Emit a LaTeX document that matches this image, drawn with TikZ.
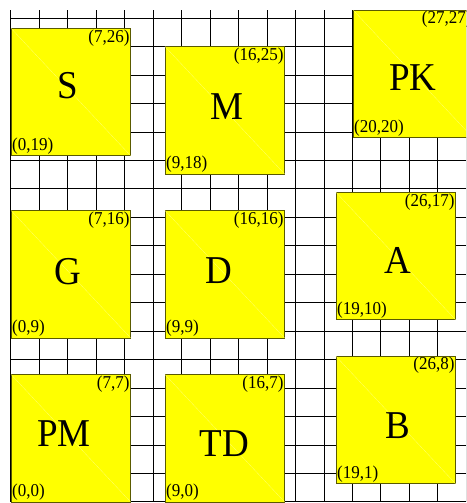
\documentclass[tikz,border=0pt]{standalone}
\usepackage{fontspec}
\setmainfont{Liberation Serif}
\definecolor{yel}{RGB}{255,255,0}
\definecolor{yeledge}{RGB}{90,90,0}
\definecolor{yeldiag}{RGB}{255,255,120}
\newcommand\sy[1]{\scalebox{1}[1.066]{#1}}
\begin{document}
\begin{tikzpicture}[x=17.1pt,y=18.22pt,
  sq/.style={fill=yel, draw=yeledge, line width=0.6pt},
  diag/.style={draw=yeldiag, line width=0.25pt},
  big/.style={font=\fontsize{37}{37}\selectfont, inner sep=0pt},
  crn/.style={font=\fontsize{17}{17}\selectfont, inner sep=1pt},
  gridline/.style={line width=1pt, black}]
\newcommand\mybox[8]{%
  \draw[sq] (#2,#3) rectangle (#4,#5);
  \draw[diag] (#2,#5) -- (#4,#3);
  \node[crn, anchor=south west] (#1-ll) at (#2,#3) {\sy{(#2,#3)}};
  \node[crn, anchor=north east] (#1-ur) at (#4,#5) {\sy{(#4,#5)}};
  \node[big] (#1) at (#7,#8) {\sy{#6}};
}
\useasboundingbox (-0.643,-0.055) rectangle (26.61,27.55);
\clip (-0.643,-0.055) rectangle (26.61,27.55);
\draw[gridline] (0,0) grid (28,27);
\mybox{S}{0}{19}{7}{26}{S}{3.33}{22.83}
\mybox{M}{9}{18}{16}{25}{M}{12.65}{21.68}
\mybox{PK}{20}{20}{27}{27}{PK}{23.5}{23.3}
\mybox{G}{0}{9}{7}{16}{G}{3.35}{12.64}
\mybox{D}{9}{9}{16}{16}{D}{12.15}{12.7}
\mybox{A}{19}{10}{26}{17}{A}{22.62}{13.25}
\mybox{PM}{0}{0}{7}{7}{PM}{3.1}{3.75}
\mybox{TD}{9}{0}{16}{7}{TD}{12.47}{3.23}
\mybox{B}{19}{1}{26}{8}{B}{22.63}{4.18}
\end{tikzpicture}
\end{document}
